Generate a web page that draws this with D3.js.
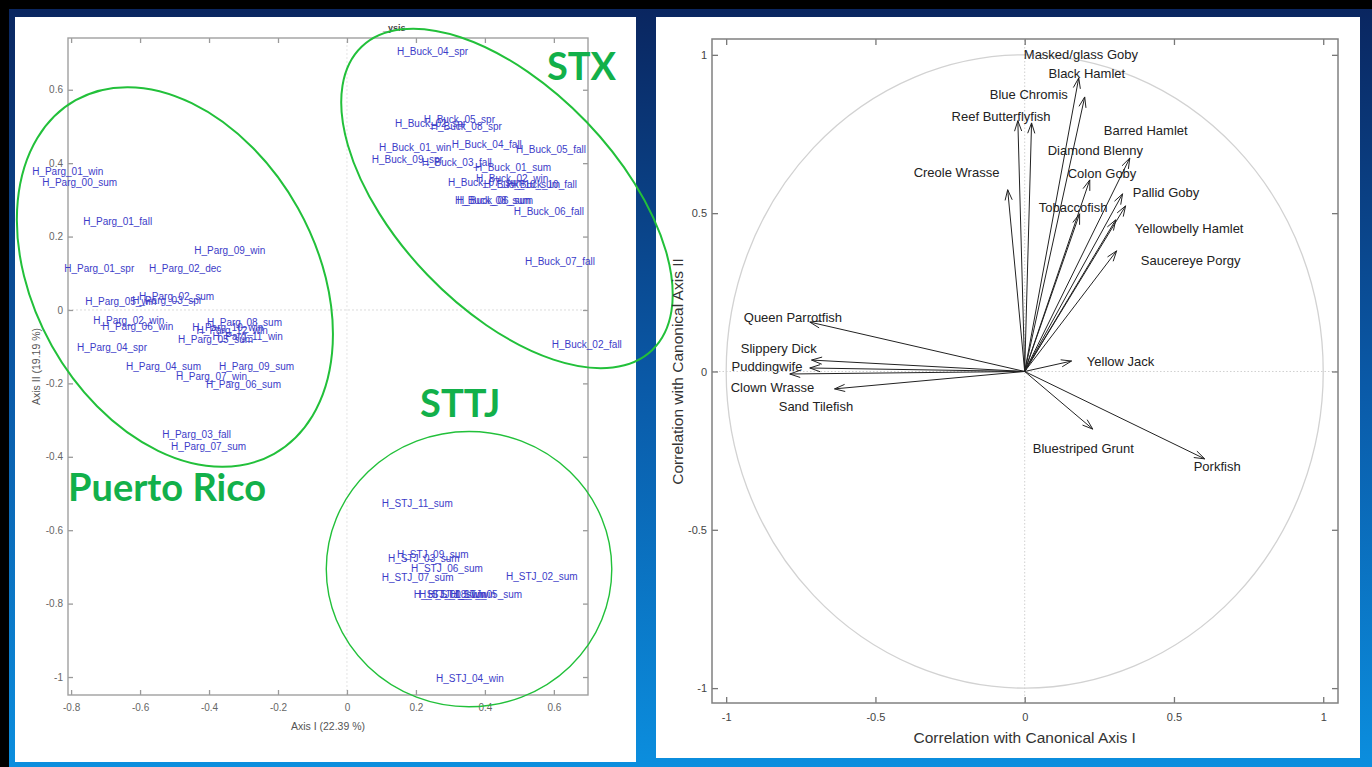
<!DOCTYPE html>
<html>
<head>
<meta charset="utf-8">
<script src="https://cdn.jsdelivr.net/npm/d3@7"></script>
<style>
  body { margin: 0; background: #000; }
  svg { display: block; }
</style>
</head>
<body>
<div id="chart"></div>
<script>
// Site scores (Axis I, Axis II) - left panel
var prSites = [
    ["H_Parg_01_win", -0.913, 0.376], ["H_Parg_00_sum", -0.884, 0.346],
    ["H_Parg_01_fall", -0.765, 0.240], ["H_Parg_09_win", -0.443, 0.161],
    ["H_Parg_01_spr", -0.820, 0.114], ["H_Parg_02_dec", -0.574, 0.114],
    ["H_Parg_02_sum", -0.603, 0.038], ["H_Parg_05_win", -0.759, 0.022],
    ["H_Parg_03_spr", -0.623, 0.025], ["H_Parg_02_win", -0.736, -0.030],
    ["H_Parg_06_win", -0.710, -0.044], ["H_Parg_08_sum", -0.406, -0.033],
    ["H_Parg_10_win", -0.449, -0.049], ["H_Parg_12_win", -0.436, -0.055],
    ["H_Parg_11_win", -0.390, -0.071], ["H_Parg_05_sum", -0.490, -0.080],
    ["H_Parg_04_spr", -0.783, -0.101], ["H_Parg_04_sum", -0.641, -0.153],
    ["H_Parg_09_sum", -0.371, -0.153], ["H_Parg_07_win", -0.496, -0.180],
    ["H_Parg_06_sum", -0.409, -0.202], ["H_Parg_03_fall", -0.536, -0.338],
    ["H_Parg_07_sum", -0.510, -0.373]
];
var stxSites = [
    ["H_Buck_04_spr", 0.145, 0.703], ["H_Buck_05_spr", 0.223, 0.520],
    ["H_Buck_02_spr", 0.139, 0.507], ["H_Buck_08_spr", 0.243, 0.499],
    ["H_Buck_01_win", 0.093, 0.444], ["H_Buck_04_fall", 0.304, 0.450],
    ["H_Buck_05_fall", 0.490, 0.436], ["H_Buck_09_spr", 0.072, 0.411],
    ["H_Buck_03_fall", 0.217, 0.401], ["H_Buck_01_sum", 0.371, 0.387],
    ["H_Buck_02_win", 0.374, 0.357], ["H_Buck_07_sum", 0.293, 0.346],
    ["H_Buck_10_sum", 0.397, 0.341], ["H_Buck_10_fall", 0.464, 0.341],
    ["H_Buck_08_sum", 0.313, 0.297], ["H_Buck_06_sum", 0.319, 0.297],
    ["H_Buck_06_fall", 0.484, 0.267], ["H_Buck_07_fall", 0.516, 0.131],
    ["H_Buck_02_fall", 0.594, -0.095]
];
var sttjSites = [
    ["H_STJ_11_sum", 0.101, -0.526], ["H_STJ_09_sum", 0.145, -0.665],
    ["H_STJ_03_sum", 0.119, -0.676], ["H_STJ_06_sum", 0.186, -0.703],
    ["H_STJ_07_sum", 0.101, -0.730], ["H_STJ_02_sum", 0.461, -0.725],
    ["H_STJ_01_sum", 0.194, -0.774], ["H_STJ_08_win", 0.209, -0.774],
    ["H_STJ_10_win", 0.235, -0.774], ["H_STJ_05_sum", 0.300, -0.774],
    ["H_STJ_04_win", 0.258, -1.003]
];

// Hand-drawn group outlines: centre, semi-axes (axis units), rotation in degrees
var groups = [
    { name: "Puerto Rico", cx: -0.499, cy: 0.090, a: 0.588, b: 0.409, angle: 60.7, lx: -0.809, ly: -0.520, w: 2 },
    { name: "STX", cx: 0.464, cy: 0.304, a: 0.609, b: 0.320, angle: 46.2, lx: 0.580, ly: 0.627, w: 2 },
    { name: "STTJ", cx: 0.354, cy: -0.706, a: 0.414, b: 0.399, angle: 0, lx: 0.212, ly: -0.292, w: 1.4 }
];

// Species vectors: tip (x, y) and label anchor (lx, ly) - right panel
var species = [
    { name: "Masked/glass Goby", x: 0.181, y: 0.927, lx: -0.003, ly: 1.000 },
    { name: "Black Hamlet", x: 0.201, y: 0.867, lx: 0.080, ly: 0.940 },
    { name: "Blue Chromis", x: 0.023, y: 0.785, lx: -0.117, ly: 0.874 },
    { name: "Reef Butterflyfish", x: -0.023, y: 0.792, lx: -0.245, ly: 0.804 },
    { name: "Creole Wrasse", x: -0.057, y: 0.574, lx: -0.372, ly: 0.630 },
    { name: "Barred Hamlet", x: 0.352, y: 0.674, lx: 0.265, ly: 0.760 },
    { name: "Diamond Blenny", x: 0.328, y: 0.561, lx: 0.077, ly: 0.697 },
    { name: "Colon Goby", x: 0.218, y: 0.605, lx: 0.144, ly: 0.624 },
    { name: "Pallid Goby", x: 0.338, y: 0.523, lx: 0.362, ly: 0.564 },
    { name: "Tobaccofish", x: 0.184, y: 0.498, lx: 0.047, ly: 0.519 },
    { name: "Yellowbelly Hamlet", x: 0.305, y: 0.479, lx: 0.369, ly: 0.453 },
    { name: "Saucereye Porgy", x: 0.308, y: 0.381, lx: 0.389, ly: 0.352 },
    { name: "Queen Parrotfish", x: -0.720, y: 0.156, lx: -0.941, ly: 0.172 },
    { name: "Slippery Dick", x: -0.714, y: 0.036, lx: -0.951, ly: 0.074 },
    { name: "Puddingwife", x: -0.720, y: 0.011, lx: -0.982, ly: 0.017 },
    { name: "Clown Wrasse", x: -0.787, y: -0.008, lx: -0.985, ly: -0.049 },
    { name: "Sand Tilefish", x: -0.637, y: -0.055, lx: -0.824, ly: -0.112 },
    { name: "Yellow Jack", x: 0.157, y: 0.033, lx: 0.208, ly: 0.033 },
    { name: "Bluestriped Grunt", x: 0.228, y: -0.182, lx: 0.027, ly: -0.242 },
    { name: "Porkfish", x: 0.603, y: -0.276, lx: 0.566, ly: -0.299 }
];

var leftXTicks = [-0.8, -0.6, -0.4, -0.2, 0, 0.2, 0.4, 0.6];
var leftYTicks = [-1, -0.8, -0.6, -0.4, -0.2, 0, 0.2, 0.4, 0.6];
var rightTicks = [-1, -0.5, 0, 0.5, 1];

var W = 1372, H = 767;
var fmt = function(d) { return d === 0 ? "0" : String(+d.toFixed(1)); };

var svg = d3.select("#chart").append("svg")
    .attr("width", W)
    .attr("height", H);

// Background gradient (slide)
var defs = svg.append("defs");
var grad = defs.append("linearGradient")
    .attr("id", "bg").attr("x1", 0).attr("y1", 0).attr("x2", 0).attr("y2", 1);
grad.append("stop").attr("offset", "0%").attr("stop-color", "#0a2660");
grad.append("stop").attr("offset", "50%").attr("stop-color", "#0a5aa8");
grad.append("stop").attr("offset", "100%").attr("stop-color", "#0b8ede");

svg.append("rect").attr("width", W).attr("height", H).attr("fill", "#000");
svg.append("rect").attr("x", 9).attr("y", 9).attr("width", W - 9).attr("height", H - 9)
    .attr("fill", "url(#bg)");

// White panels
svg.append("rect").attr("x", 15).attr("y", 17).attr("width", 621).attr("height", 745).attr("fill", "#fff");
svg.append("rect").attr("x", 656).attr("y", 17).attr("width", 704).attr("height", 741).attr("fill", "#fff");

// ---------------- Left panel: site ordination ----------------
var xL = d3.scaleLinear().domain([-0.809, 0.699]).range([68, 588]);
var yL = d3.scaleLinear().domain([-1.049, 0.741]).range([695, 38]);

var left = svg.append("g").attr("class", "left");

// zero lines
left.append("line")
    .attr("x1", xL.range()[0]).attr("x2", xL.range()[1])
    .attr("y1", yL(0)).attr("y2", yL(0))
    .attr("stroke", "#dcdcdc").attr("stroke-dasharray", "2,2");
left.append("line")
    .attr("x1", xL(0)).attr("x2", xL(0))
    .attr("y1", yL.range()[0]).attr("y2", yL.range()[1])
    .attr("stroke", "#e4e4e4").attr("stroke-dasharray", "2,2");

// axes (ticks pointing inward)
function styleAxis(g, col, size) {
    g.select(".domain").remove();
    g.selectAll(".tick line").attr("stroke", col).attr("stroke-width", 1.3);
    g.selectAll("text").attr("fill", col === "#9a9a9a" ? "#666" : "#444")
        .style("font-family", "Liberation Sans, Arial, sans-serif")
        .style("font-size", size + "px");
}

left.append("g").attr("transform", "translate(0," + yL.range()[0] + ")")
    .call(d3.axisBottom(xL).tickValues(leftXTicks).tickFormat(fmt).tickSizeInner(-5).tickSizeOuter(0).tickPadding(9))
    .call(styleAxis, "#9a9a9a", 10);
left.append("g").attr("transform", "translate(0," + yL.range()[1] + ")")
    .call(d3.axisTop(xL).tickValues(leftXTicks).tickFormat("").tickSizeInner(-5).tickSizeOuter(0))
    .call(styleAxis, "#9a9a9a", 10);
left.append("g").attr("transform", "translate(" + xL.range()[0] + ",0)")
    .call(d3.axisLeft(yL).tickValues(leftYTicks).tickFormat(fmt).tickSizeInner(-5).tickSizeOuter(0).tickPadding(5))
    .call(styleAxis, "#9a9a9a", 10);
left.append("g").attr("transform", "translate(" + xL.range()[1] + ",0)")
    .call(d3.axisRight(yL).tickValues(leftYTicks).tickFormat("").tickSizeInner(-5).tickSizeOuter(0))
    .call(styleAxis, "#9a9a9a", 10);

left.append("rect")
    .attr("x", xL.range()[0]).attr("y", yL.range()[1])
    .attr("width", xL.range()[1] - xL.range()[0])
    .attr("height", yL.range()[0] - yL.range()[1])
    .attr("fill", "none").attr("stroke", "#a0a0a0").attr("stroke-width", 1.4);

// axis titles
left.append("text")
    .attr("x", (xL.range()[0] + xL.range()[1]) / 2).attr("y", 730)
    .attr("text-anchor", "middle")
    .attr("fill", "#555")
    .style("font-family", "Liberation Sans, Arial, sans-serif").style("font-size", "10.5px")
    .text("Axis I (22.39 %)");
left.append("text")
    .attr("transform", "translate(40," + (yL.range()[0] + yL.range()[1]) / 2 + ") rotate(-90)")
    .attr("text-anchor", "middle")
    .attr("fill", "#555")
    .style("font-family", "Liberation Sans, Arial, sans-serif").style("font-size", "10.5px")
    .text("Axis II (19.19 %)");
left.append("text")
    .attr("x", 383).attr("y", 31)
    .attr("fill", "#444")
    .style("font-family", "Liberation Sans, Arial, sans-serif").style("font-size", "9px").style("font-weight", "bold")
    .text("_ysis");

// site labels
var sites = prSites.concat(stxSites, sttjSites);
left.selectAll("text.site")
    .data(sites)
    .enter().append("text")
    .attr("class", "site")
    .attr("x", function(d) { return xL(d[1]); })
    .attr("y", function(d) { return yL(d[2]); })
    .attr("dy", "0.35em")
    .attr("fill", "#3c3cc8")
    .style("font-family", "Liberation Sans, Arial, sans-serif")
    .style("font-size", "10px")
    .text(function(d) { return d[0]; });

// group outlines and names
var kx = xL(1) - xL(0);
left.selectAll("ellipse.grp")
    .data(groups)
    .enter().append("ellipse")
    .attr("class", "grp")
    .attr("cx", function(d) { return xL(d.cx); })
    .attr("cy", function(d) { return yL(d.cy); })
    .attr("rx", function(d) { return d.a * kx; })
    .attr("ry", function(d) { return d.b * kx; })
    .attr("transform", function(d) { return "rotate(" + d.angle + "," + xL(d.cx) + "," + yL(d.cy) + ")"; })
    .attr("fill", "none")
    .attr("stroke", "#22c03a")
    .attr("stroke-width", function(d) { return d.w; });

left.selectAll("text.grp")
    .data(groups)
    .enter().append("text")
    .attr("class", "grp")
    .attr("x", function(d) { return xL(d.lx); })
    .attr("y", function(d) { return yL(d.ly); })
    .attr("fill", "#12b04a")
    .style("font-family", "Lato, 'Open Sans', sans-serif")
    .style("font-weight", "bold")
    .style("font-size", "38px")
    .text(function(d) { return d.name; });

// ---------------- Right panel: species correlations ----------------
var xR = d3.scaleLinear().domain([-1.0475, 1.0495]).range([712, 1338]);
var yR = d3.scaleLinear().domain([-1.047, 1.05]).range([703, 39]);

var right = svg.append("g").attr("class", "right");

right.append("ellipse")
    .attr("cx", xR(0)).attr("cy", yR(0))
    .attr("rx", xR(1) - xR(0)).attr("ry", yR(0) - yR(1))
    .attr("fill", "none").attr("stroke", "#d2d2d2").attr("stroke-width", 1.3);

right.append("line")
    .attr("x1", xR.range()[0]).attr("x2", xR.range()[1])
    .attr("y1", yR(0)).attr("y2", yR(0))
    .attr("stroke", "#d0d0d0").attr("stroke-dasharray", "1.5,2");
right.append("line")
    .attr("x1", xR(0)).attr("x2", xR(0))
    .attr("y1", yR.range()[0]).attr("y2", yR.range()[1])
    .attr("stroke", "#d0d0d0").attr("stroke-dasharray", "1.5,2");

right.append("g").attr("transform", "translate(0," + yR.range()[0] + ")")
    .call(d3.axisBottom(xR).tickValues(rightTicks).tickFormat(fmt).tickSizeInner(-6).tickSizeOuter(0).tickPadding(10))
    .call(styleAxis, "#777", 11);
right.append("g").attr("transform", "translate(0," + yR.range()[1] + ")")
    .call(d3.axisTop(xR).tickValues(rightTicks).tickFormat("").tickSizeInner(-6).tickSizeOuter(0))
    .call(styleAxis, "#777", 11);
right.append("g").attr("transform", "translate(" + xR.range()[0] + ",0)")
    .call(d3.axisLeft(yR).tickValues(rightTicks).tickFormat(fmt).tickSizeInner(-6).tickSizeOuter(0).tickPadding(5))
    .call(styleAxis, "#777", 11);
right.append("g").attr("transform", "translate(" + xR.range()[1] + ",0)")
    .call(d3.axisRight(yR).tickValues(rightTicks).tickFormat("").tickSizeInner(-6).tickSizeOuter(0))
    .call(styleAxis, "#777", 11);

right.append("rect")
    .attr("x", xR.range()[0]).attr("y", yR.range()[1])
    .attr("width", xR.range()[1] - xR.range()[0])
    .attr("height", yR.range()[0] - yR.range()[1])
    .attr("fill", "none").attr("stroke", "#808080").attr("stroke-width", 1.5);

right.append("text")
    .attr("x", xR(0)).attr("y", 743)
    .attr("text-anchor", "middle")
    .attr("fill", "#333")
    .style("font-family", "Liberation Sans, Arial, sans-serif").style("font-size", "15.5px")
    .text("Correlation with Canonical Axis I");
right.append("text")
    .attr("transform", "translate(683," + yR(0) + ") rotate(-90)")
    .attr("text-anchor", "middle")
    .attr("fill", "#333")
    .style("font-family", "Liberation Sans, Arial, sans-serif").style("font-size", "15.5px")
    .text("Correlation with Canonical Axis II");

// vectors with open arrowheads
var ox = xR(0), oy = yR(0);
function arrowPath(d) {
    var tx = xR(d.x), ty = yR(d.y);
    var a = Math.atan2(ty - oy, tx - ox), L = 11, phi = 0.33;
    var p = d3.path();
    p.moveTo(ox, oy);
    p.lineTo(tx, ty);
    p.moveTo(tx - L * Math.cos(a - phi), ty - L * Math.sin(a - phi));
    p.lineTo(tx, ty);
    p.lineTo(tx - L * Math.cos(a + phi), ty - L * Math.sin(a + phi));
    return p.toString();
}
right.selectAll("path.vec")
    .data(species)
    .enter().append("path")
    .attr("class", "vec")
    .attr("d", arrowPath)
    .attr("fill", "none")
    .attr("stroke", "#222")
    .attr("stroke-width", 1);

right.selectAll("text.sp")
    .data(species)
    .enter().append("text")
    .attr("class", "sp")
    .attr("x", function(d) { return xR(d.lx); })
    .attr("y", function(d) { return yR(d.ly); })
    .attr("dy", "0.35em")
    .attr("fill", "#222")
    .style("font-family", "Liberation Sans, Arial, sans-serif")
    .style("font-size", "13px")
    .text(function(d) { return d.name; });
</script>
</body>
</html>
